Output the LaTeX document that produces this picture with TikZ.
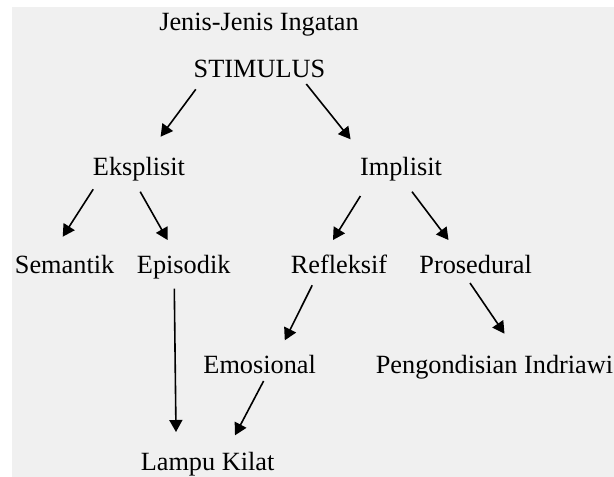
\documentclass[tikz,border=0pt]{standalone}
\usepackage{fontspec}
\setmainfont{Liberation Serif}
\usetikzlibrary{calc,arrows.meta}
\definecolor{bggray}{HTML}{F0F0F0}
\begin{document}
\begin{tikzpicture}[x=1pt,y=-1pt,
  lbl/.style={anchor=base,inner sep=0pt,font=\fontsize{26.3pt}{30pt}\selectfont},
  arr/.style={line width=1.6pt,-{Triangle[length=12pt,width=13pt]}}]
\fill[white] (0,0) rectangle (614,477);
\fill[bggray] (12,7) rectangle (614,477);
\useasboundingbox (0,0) rectangle (614,477);
\node[lbl] (title) at (259,30.5) {Jenis-Jenis Ingatan};
\node[lbl] (stim) at (259.5,77) {STIMULUS};
\node[lbl] (eks) at (139,175) {Eksplisit};
\node[lbl] (imp) at (401,175) {Implisit};
\node[lbl] (sem) at (64.6,273.5) {Semantik};
\node[lbl] (epi) at (183.7,273.5) {Episodik};
\node[lbl] (ref) at (339,273.5) {Refleksif};
\node[lbl] (pro) at (475.7,273.5) {Prosedural};
\node[lbl] (emo) at (259.7,373.5) {Emosional};
\node[lbl] (peng) at (494.5,373.5) {Pengondisian Indriawi};
\node[lbl] (lampu) at (207.6,470) {Lampu Kilat};
\draw[arr] ($(stim.base)+(-63.7,12.3)$) -- ($(eks.base)+(21.6,-38.3)$);
\draw[arr] ($(stim.base)+(46.8,7)$) -- ($(imp.base)+(-50.4,-35.7)$);
\draw[arr] ($(eks.base)+(-45.8,14.3)$) -- ($(sem.base)+(-1.9,-36.8)$);
\draw[arr] ($(eks.base)+(1.2,16.7)$) -- ($(epi.base)+(-16.1,-33.5)$);
\draw[arr] ($(imp.base)+(-40.6,21)$) -- ($(ref.base)+(-6,-33.5)$);
\draw[arr] ($(imp.base)+(11,16.7)$) -- ($(pro.base)+(-27.2,-33.5)$);
\draw[arr] ($(epi.base)+(-9.4,15.2)$) -- ($(lampu.base)+(-31.6,-38)$);
\draw[arr] ($(ref.base)+(-26.8,11.8)$) -- ($(emo.base)+(25.1,-33.2)$);
\draw[arr] ($(pro.base)+(-5.7,9.5)$) -- ($(peng.base)+(10,-39.8)$);
\draw[arr] ($(emo.base)+(3.9,7.5)$) -- ($(lampu.base)+(27.4,-34.7)$);
\end{tikzpicture}
\end{document}
